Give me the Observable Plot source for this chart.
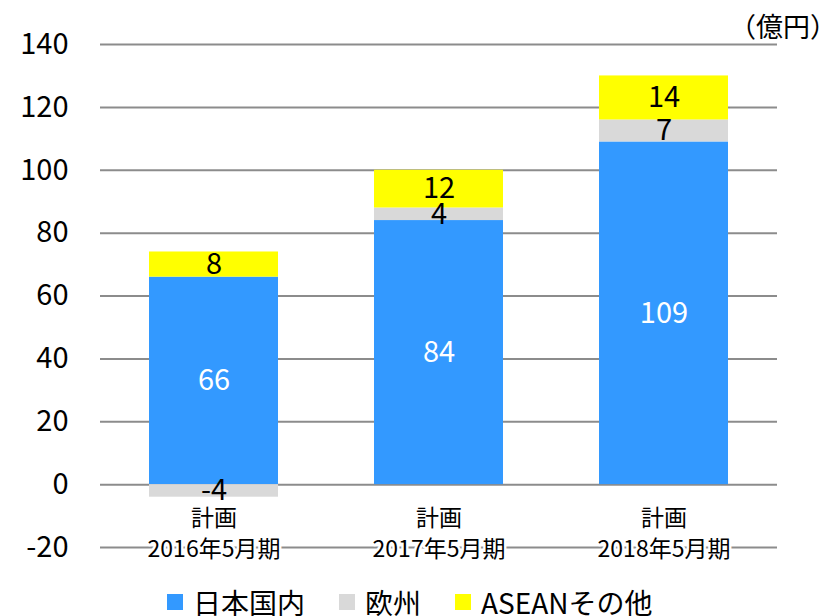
<!DOCTYPE html>
<html><head><meta charset="utf-8">
<script src="https://cdn.jsdelivr.net/npm/d3@7"></script>
<script src="https://cdn.jsdelivr.net/npm/@observablehq/plot@0.6"></script>
<style>
body{margin:0;background:#fff;font-family:"Noto Sans CJK JP","Noto Sans",sans-serif;}
#wrap{position:relative;width:839px;height:616px;overflow:hidden;}
#unit{position:absolute;right:2px;top:8px;font-size:27px;color:#000;line-height:36px;}
#legend{position:absolute;left:167px;top:589px;display:flex;align-items:center;font-size:28px;line-height:26px;height:26px;color:#000;}
.item{display:flex;align-items:center;margin-right:34px;}
.sw{width:16px;height:16px;margin-right:10px;}
</style></head>
<body><div id="wrap"><div id="unit">（億円）</div><div id="legend"></div></div>
<script>
const periods = ["計画\n2016年5月期", "計画\n2017年5月期", "計画\n2018年5月期"];
const seriesNames = ["日本国内", "欧州", "ASEANその他"];
const japan = [66, 84, 109];
const europe = [-4, 4, 7];
const asean = [8, 12, 14];
const yTicks = [-20, 0, 20, 40, 60, 80, 100, 120, 140];
const colors = ["#3399FF", "#D9D9D9", "#FFFF00"];

const seriesValues = [japan, europe, asean];
const rows = [];
periods.forEach((p, i) => {
  seriesNames.forEach((s, j) => rows.push({period: p, series: s, value: seriesValues[j][i]}));
});

const font = "Noto Sans CJK JP";
const chart = Plot.plot({
  width: 839,
  height: 575,
  marginTop: 44,
  marginBottom: 28,
  marginLeft: 100,
  marginRight: 62,
  style: {fontFamily: font, background: "transparent", overflow: "visible"},
  x: {domain: periods, paddingInner: 0.428, paddingOuter: 0.215, axis: null},
  y: {domain: [yTicks[0], yTicks[yTicks.length - 1]], axis: null},
  color: {domain: seriesNames, range: colors},
  marks: [
    Plot.ruleY(yTicks, {stroke: "#8c8c8c", strokeWidth: 2}),
    Plot.barY(rows, {x: "period", y: "value", fill: "series", z: "series"}),
    Plot.text(rows, Plot.stackY({x: "period", y: "value", z: "series",
      text: d => d.series === seriesNames[0] ? String(d.value) : null,
      fill: "white", fontSize: 29})),
    Plot.text(rows, Plot.stackY({x: "period", y: "value", z: "series",
      text: d => d.series !== seriesNames[0] ? String(d.value) : null,
      fill: "black", fontSize: 29})),
    Plot.text(yTicks, {y: d => d, text: d => String(d), frameAnchor: "left",
      textAnchor: "end", dx: -32, fontSize: 29, fill: "black"}),
    Plot.text(periods, {x: d => d, text: d => d, frameAnchor: "bottom",
      lineAnchor: "middle", dy: -16, lineHeight: 1.33, fontSize: 23, fill: "black",
      stroke: "white", strokeWidth: 5})
  ]
});
document.getElementById("wrap").prepend(chart);

const legend = document.getElementById("legend");
seriesNames.forEach((s, i) => {
  const it = document.createElement("div");
  it.className = "item";
  const sw = document.createElement("div");
  sw.className = "sw";
  sw.style.background = colors[i];
  const t = document.createElement("span");
  t.textContent = s;
  it.append(sw, t);
  legend.append(it);
});
</script></body></html>
